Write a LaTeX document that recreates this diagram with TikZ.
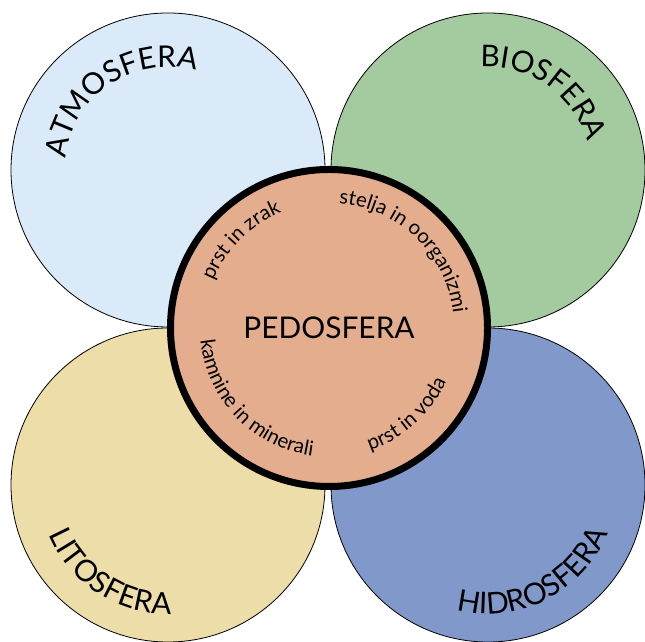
\documentclass[tikz,border=0pt]{standalone}
\usepackage{fontspec}
\setmainfont{Lato}
\usetikzlibrary{decorations.text}
\definecolor{atmoblue}{HTML}{DAEAF8}
\definecolor{biogreen}{HTML}{A4CB9F}
\definecolor{litoyellow}{HTML}{EDDEA9}
\definecolor{hidroblue}{HTML}{8198CA}
\definecolor{pedosalmon}{HTML}{E4AE8E}
\newcommand{\spherefont}{\fontsize{30}{32}\selectfont}
\newcommand{\ringfont}{\fontsize{20.5}{22}\selectfont}
\begin{document}
\begin{tikzpicture}[x=1bp,y=1bp,
    sphere/.style={draw=black,line width=0.8bp,circle,minimum size=314bp,inner sep=0pt},
    arctext/.style={decorate,decoration={text along path,text align=center,text={#1}}}]
    \useasboundingbox (0,0) rectangle (645,642);
    %%
    \node (atmo) at (168bp,472bp) [sphere,fill=atmoblue] {};
    \node (bio) at (488bp,472bp) [sphere,fill=biogreen] {};
    \node (lito) at (168bp,157bp) [sphere,fill=litoyellow] {};
    \node (hidro) at (488bp,157bp) [sphere,fill=hidroblue] {};
    \node (pedo) at (329bp,314bp) [circle,draw=black,line width=7bp,fill=pedosalmon,minimum size=317bp,inner sep=0pt] {\spherefont PEDOSFERA};
    % outer labels
    \path [arctext={|\spherefont|ATMOSFERA}] ([shift={(190:103bp)}]atmo.center) arc[start angle=190,end angle=58,radius=103bp];
    \path [arctext={|\spherefont|BIOSFERA}] ([shift={(121:103bp)}]bio.center) arc[start angle=121,end angle=-11,radius=103bp];
    \path [arctext={|\spherefont|LITOSFERA}] ([shift={(170:129bp)}]lito.center) arc[start angle=170,end angle=304,radius=129bp];
    \path [arctext={|\spherefont|HIDROSFERA}] ([shift={(230:129bp)}]hidro.center) arc[start angle=230,end angle=364,radius=129bp];
    % ring labels
    \path [arctext={|\ringfont|prst in zrak}] ([shift={(180:125bp)}]pedo.center) arc[start angle=180,end angle=90,radius=125bp];
    \path [arctext={|\ringfont|stelja in oorganizmi}] ([shift={(100:125bp)}]pedo.center) arc[start angle=100,end angle=-8,radius=125bp];
    \path [arctext={|\ringfont|kamnine in minerali}] ([shift={(170:129bp)}]pedo.center) arc[start angle=170,end angle=278,radius=129bp];
    \path [arctext={|\ringfont|prst in voda}] ([shift={(270:129bp)}]pedo.center) arc[start angle=270,end angle=354,radius=129bp];
    %
\end{tikzpicture}
\end{document}
